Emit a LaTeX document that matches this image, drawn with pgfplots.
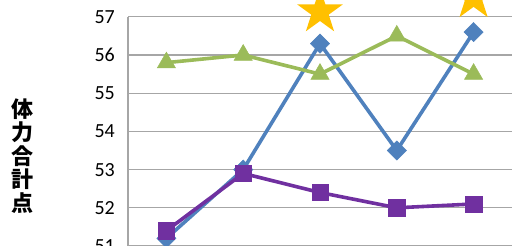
\documentclass[border=0pt]{standalone}
\usepackage{fontspec}
\setmainfont{Carlito}
\newfontfamily\cjk{Noto Sans CJK JP}
\usepackage{pgfplots}
\pgfplotsset{compat=1.18}
\definecolor{sblue}{HTML}{4F81BD}
\definecolor{sgreen}{HTML}{9BBB59}
\definecolor{spurple}{HTML}{7030A0}
\definecolor{sgold}{HTML}{FFC000}
\definecolor{gridc}{HTML}{A6A6A6}
\pgfdeclareplotmark{fstar}{%
  \pgfpathmoveto{\pgfqpointpolar{90}{\pgfplotmarksize}}%
  \pgfpathlineto{\pgfqpointpolar{126}{0.382\pgfplotmarksize}}%
  \pgfpathlineto{\pgfqpointpolar{162}{\pgfplotmarksize}}%
  \pgfpathlineto{\pgfqpointpolar{198}{0.382\pgfplotmarksize}}%
  \pgfpathlineto{\pgfqpointpolar{234}{\pgfplotmarksize}}%
  \pgfpathlineto{\pgfqpointpolar{270}{0.382\pgfplotmarksize}}%
  \pgfpathlineto{\pgfqpointpolar{306}{\pgfplotmarksize}}%
  \pgfpathlineto{\pgfqpointpolar{342}{0.382\pgfplotmarksize}}%
  \pgfpathlineto{\pgfqpointpolar{18}{\pgfplotmarksize}}%
  \pgfpathlineto{\pgfqpointpolar{54}{0.382\pgfplotmarksize}}%
  \pgfpathclose
  \pgfusepathqfill
}
\begin{document}
\begin{tikzpicture}
\begin{axis}[
  at={(128pt,-38.2pt)}, anchor=south west,
  scale only axis, width=384pt, height=267.4pt,
  xmin=-0.5, xmax=4.5, ymin=50, ymax=57,
  xtick=\empty, ytick={50,51,...,57},
  axis lines=left, axis line style={draw=gridc, line width=1.2pt, -},
  ymajorgrids, major grid style={draw=gridc, line width=1.3pt},
  major tick length=0pt,
  /pgf/number format/assume math mode=true,
  yticklabel style={font=\fontsize{20}{24}\selectfont, xshift=-8pt},
  clip=false,
  line width=3.6pt,
]
\addplot[color=sblue, mark=square*, mark size=6.8pt, mark options={rotate=45, line width=0.5pt}]
  coordinates {(0,51.2) (1,53.0) (2,56.3) (3,53.5) (4,56.6)};
\addplot[color=spurple, mark=square*, mark size=8.2pt, mark options={line width=0.5pt}]
  coordinates {(0,51.4) (1,52.9) (2,52.4) (3,52.0) (4,52.1)};
\addplot[color=sgreen, mark=triangle*, mark size=10.5pt, mark options={line width=0.5pt}]
  coordinates {(0,55.8) (1,56.0) (2,55.5) (3,56.5) (4,55.5)};
\addplot[only marks, color=sgold, mark=fstar, mark size=24pt]
  coordinates {(2,57.13) (4,57.5)};
\end{axis}
\node[font=\cjk\bfseries\fontsize{22}{23.5}\selectfont, align=center, inner sep=0pt] at (22pt,90pt)
  {体\\力\\合\\計\\点};
\pgfresetboundingbox
\path[use as bounding box] (0,0) rectangle (512pt,246pt);
\end{tikzpicture}
\end{document}
